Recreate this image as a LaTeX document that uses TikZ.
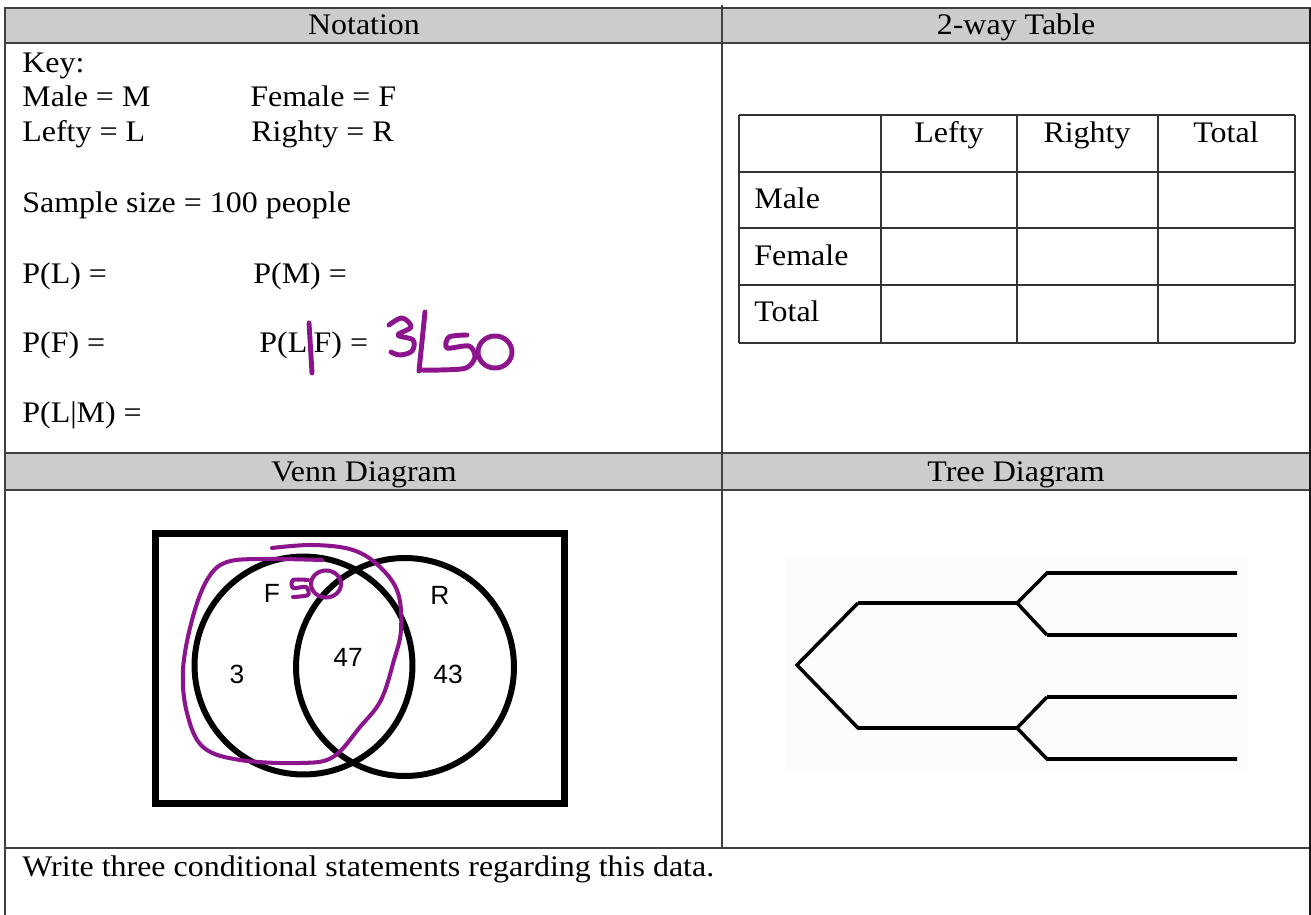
\documentclass[tikz,border=0pt]{standalone}
\usepackage{fontspec}
\setmainfont[FakeStretch=1.07]{Liberation Serif}
\newfontfamily\vennfont{Liberation Sans}
\usepackage{xcolor}
\usetikzlibrary{positioning,calc}
\definecolor{ink}{RGB}{140,20,140}
\definecolor{headgray}{RGB}{204,204,204}

\begin{document}
\begin{tikzpicture}[x=0.02cm, y=-0.02cm,
    rule/.style={draw=black!75, line width=1.1pt},
    headbar/.style={fill=headgray, draw=black!75, line width=1.2pt},
    headtxt/.style={anchor=base, inner sep=0pt, font=\fontsize{17}{20}\selectfont},
    txt/.style={anchor=base west, inner sep=0pt, font=\fontsize{17}{20}\selectfont},
    cell/.style={draw=black!80, line width=0.9pt},
    vennline/.style={line width=3.4pt},
    vtxt/.style={inner sep=0pt, font=\vennfont\fontsize{15}{18}\selectfont},
    branch/.style={line width=2pt},
    thickbranch/.style={line width=2.8pt},
    hand/.style={draw=ink, line width=2.3pt, line cap=round, line join=round},
  ]
    \useasboundingbox (0,0) rectangle (1311,915);

    % Frame and header bars
    \draw[headbar] (5,8) rectangle (1310,43);
    \draw[headbar] (5,453) rectangle (1310,490);
    \draw[rule] (722,5) -- (722,848);
    \draw[rule] (5,848) -- (1310,848);
    \draw[rule] (5,8) -- (5,915);
    \draw[draw=black!90, line width=1.4pt] (1310,8) -- (1310,915);

    \node[headtxt] (hnot) at (364,35) {Notation};
    \node[headtxt] (htab) at (1016,35) {2-way Table};
    \node[headtxt] (hven) at (364,481) {Venn Diagram};
    \node[headtxt] (htre) at (1016,481) {Tree Diagram};

    % Notation
    \node[txt] (key) at (22,73) {Key:};
    \node[txt] (male) at (22,107) {Male = M};
    \node[txt] (fem) at (250,107) {Female = F};
    \node[txt] (lefty) at (22,142) {Lefty = L};
    \node[txt] (righty) at (251,142) {Righty = R};
    \node[txt] (size) at (22,213) {Sample size = 100 people};
    \node[txt] (pl) at (22,284) {P(L) =};
    \node[txt] (pm) at (253,284) {P(M) =};
    \node[txt] (pf) at (22,353) {P(F) =};
    \node[txt] (plf) at (259,353) {P(L|F) =};
    \node[txt] (plm) at (22,422) {P(L|M) =};

    % handwritten answer
    \draw[hand, line width=2.8pt] (309,323) -- (312,373);
    \draw[hand, line width=2.8pt] plot[smooth, tension=0.6] coordinates {(389,325) (402,318) (411,327) (398,335) (413,340) (412,351) (400,355) (391,352)};
    \draw[hand, line width=2.8pt] (425,312) -- (419,371);
    \draw[hand, line width=2.8pt] plot[smooth, tension=0.5] coordinates {(467,335) (449,337) (447,348) (469,346) (475,357) (466,368) (440,370) (421,370)};
    \draw[hand, line width=2.8pt] (495,352) ellipse [x radius=0.34cm, y radius=0.32cm];

    % 2-way table
    \foreach \cx in {739,881,1017,1158,1295}
      \draw[cell] (\cx,115) -- (\cx,343);
    \foreach \cy in {115,172,228,285,343}
      \draw[cell] (739,\cy) -- (1295,\cy);
    \node[headtxt] (tl) at (949,143) {Lefty};
    \node[headtxt] (tr) at (1087,143) {Righty};
    \node[headtxt] (tt) at (1226,143) {Total};
    \node[txt] (rm) at (754,209) {Male};
    \node[txt] (rf) at (754,266) {Female};
    \node[txt] (rt) at (754,322) {Total};

    % Venn diagram
    \draw[line width=4pt] (155.5,533.5) rectangle (564.5,803.5);
    \draw[vennline] (303.5,665.5) circle [radius=2.18cm];
    \draw[vennline] (405,667) circle [radius=2.18cm];
    \node[vtxt] (vf) at (272,593) {F};
    \node[vtxt] (vr) at (440,595) {R};
    \node[vtxt] (v3) at (237,674) {3};
    \node[vtxt] (v47) at (348,657) {47};
    \node[vtxt] (v43) at (448,674) {43};

    % handwritten loop round F
    \draw[hand] plot[smooth, tension=0.6] coordinates {(272,548) (313,545) (353,550) (380,567) (398,593) (401,630) (394,660) (381,700) (360,727) (333,757) (300,763) (240,760) (203,747) (187,713) (183,670) (192,620) (207,580) (227,562) (267,559) (322,560)};
    \draw[hand] plot[smooth, tension=0.5] coordinates {(308,580) (293,580) (293,588) (306,587) (308,595) (293,597)};
    \draw[hand] (326,584) ellipse [x radius=0.3cm, y radius=0.27cm];

    % Tree diagram
    \fill[black!1] (785,557) rectangle (1248,772);
    \coordinate (root) at (797,665);
    \coordinate (a1) at (858,603);
    \coordinate (a2) at (1017,603);
    \coordinate (b1) at (858,728);
    \coordinate (b2) at (1017,728);
    \coordinate (aa1) at (1047,573);
    \coordinate (aa2) at (1237,573);
    \coordinate (ab1) at (1047,635);
    \coordinate (ab2) at (1237,635);
    \coordinate (ba1) at (1047,697);
    \coordinate (ba2) at (1237,697);
    \coordinate (bb1) at (1047,759);
    \coordinate (bb2) at (1237,759);
    \draw[branch] (a1) -- (root) -- (b1) -- (b2);
    \draw[thickbranch] (a1) -- (a2);
    \draw[branch] (a2) -- (aa1) -- (aa2);
    \draw[branch] (a2) -- (ab1);
    \draw[thickbranch] (ab1) -- (ab2);
    \draw[branch] (b2) -- (ba1);
    \draw[thickbranch] (ba1) -- (ba2);
    \draw[branch] (b2) -- (bb1) -- (bb2);

    % Bottom row
    \node[txt] (task) at (22,876) {Write three conditional statements regarding this data.};
\end{tikzpicture}
\end{document}
